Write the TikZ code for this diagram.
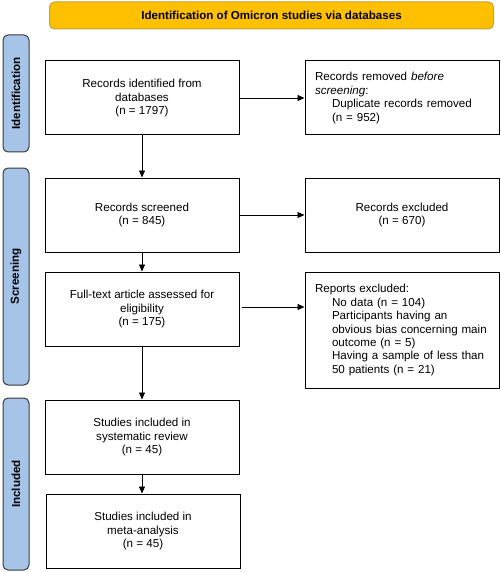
\documentclass[tikz,border=0pt]{standalone}
\usepackage{fontspec}
\setmainfont{Liberation Sans}
\usetikzlibrary{arrows.meta,calc}
\definecolor{titlefill}{HTML}{FFC000}
\definecolor{titleline}{HTML}{C9A03A}
\definecolor{sidefill}{HTML}{A6C4E8}
\definecolor{sideline}{HTML}{3A3A3A}
\begin{document}
\begin{tikzpicture}[x=1pt,y=-1pt,
  every node/.style={font=\fontsize{11.6}{13.4}\selectfont},
  flowbox/.style={draw=black,line width=1pt,minimum width=194pt,minimum height=74pt,align=center,inner sep=0pt,fill=white},
  sidebox/.style={draw=black,line width=1pt,minimum width=194pt,minimum height=74pt,text width=174pt,inner xsep=10pt,inner ysep=0pt,align=left,fill=white},
  phase/.style={draw=sideline,fill=sidefill,line width=1pt,rounded corners=5pt,minimum width=26pt,inner sep=0pt},
  phaselabel/.style={rotate=90,font=\bfseries\fontsize{11.6}{13.4}\selectfont},
  titlebar/.style={draw=titleline,fill=titlefill,line width=1pt,rounded corners=5pt,minimum width=444pt,minimum height=27pt,font=\bfseries\fontsize{11.6}{13.4}\selectfont},
  arr/.style={-{Triangle[length=7pt,width=6pt]},line width=0.9pt,black}
]
\useasboundingbox (0,0) rectangle (500,572);

\node[titlebar] (title) at (271.5,15.5) {Identification of Omicron studies via databases};

\node[phase,minimum height=117pt] (ph1) at (16,93.5) {};
\node[phaselabel] (ph1t) at (ph1.center) {Identification};
\node[phase,minimum height=217pt] (ph2) at (16,276.5) {};
\node[phaselabel] (ph2t) at (ph2.center) {Screening};
\node[phase,minimum height=172pt] (ph3) at (16,484) {};
\node[phaselabel] (ph3t) at (ph3.center) {Included};

\node[flowbox] (ident) at (142,98) {Records identified from\\databases\\(n = 1797)};
\node[sidebox] (removed) at (402,98) {Records removed \textit{before}\\\textit{screening}:\\\hspace*{17pt}Duplicate records removed\\\hspace*{17pt}(n = 952)};
\node[flowbox] (screened) at (142,215) {Records screened\\(n = 845)};
\node[flowbox] (excluded) at (402,215) {Records excluded\\(n = 670)};
\node[flowbox] (full) at (142,309) {Full-text article assessed for\\eligibility\\(n = 175)};
\node[sidebox,minimum height=116pt] (reports) at (402,330) {Reports excluded:\\\hspace*{17pt}No data (n = 104)\\\hspace*{17pt}Participants having an\\\hspace*{17pt}obvious bias concerning main\\\hspace*{17pt}outcome (n = 5)\\\hspace*{17pt}Having a sample of less than\\\hspace*{17pt}50 patients (n = 21)};
\node[flowbox] (review) at (142,437) {Studies included in\\systematic review\\(n = 45)};
\node[flowbox] (meta) at (143,531) {Studies included in\\meta-analysis\\(n = 45)};

\draw[arr] (ident.east) -- (removed.west);
\draw[arr] (screened.east) -- (excluded.west);
\draw[arr] ($(full.east)+(2,-2)$) coordinate (fe) -- (fe -| reports.west);
\draw[arr] (ident.south) -- (screened.north);
\draw[arr] (screened.south) -- (full.north);
\draw[arr] (full.south) -- (review.north);
\draw[arr] (review.south) -- (review.south |- meta.north);
\end{tikzpicture}
\end{document}
